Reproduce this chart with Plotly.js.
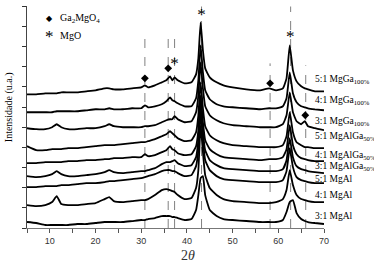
<!DOCTYPE html>
<html><head><meta charset="utf-8">
<script src="https://cdn.plot.ly/plotly-3.0.1.min.js"></script>
<style>html,body{margin:0;padding:0;background:#fff}#chart{width:374px;height:267px}</style>
</head><body><div id="chart"></div>
<script>
// 2-theta grid (degrees)
const twoTheta = [5,7,9,10.5,11.5,12.5,14,16,18,20,22,23,24,26,28,30,30.8,31.5,33,34.5,35.5,36.3,36.8,37.3,38,39.5,41,42,42.5,43,43.5,44,45,46.5,48,50,53,56,58,59.5,61,61.8,62.5,63.2,64,65,65.8,66.5,68,70];

// Stacked intensities (a.u.), top to bottom
const mgga51 = [134,134,135,135,135,136,136,136,137,138,140,140,139,139,140,141,143,141,143,146,148,152,148,151,148,145,146,154,170,206,178,160,151,146,143,141,139,138,140,138,140,150,183,158,147,142,140,139,137,137];
const mgga41 = [116,116,116,116,117,117,117,117,118,119,119,120,119,119,120,120,123,121,122,124,127,131,128,127,125,122,122,130,148,183,156,138,129,124,122,121,120,119,120,120,122,130,156,135,126,122,121,120,119,118];
const mgga31 = [100,99,99,101,104,101,99,99,100,100,102,104,102,101,101,101,102,102,103,106,108,109,109,112,109,106,107,116,133,166,140,122,113,108,105,103,102,101,101,101,104,113,136,116,107,104,107,102,100,98];
const mgalga51 = [82,78,78,79,79,79,80,80,81,82,83,83,83,84,85,86,86,87,89,92,94,97,95,93,90,87,88,96,113,146,120,102,93,88,85,83,82,81,81,81,83,92,116,96,86,83,81,81,80,80];
const mgalga41 = [65,65,66,66,66,66,67,67,68,68,69,69,70,70,71,71,74,72,73,76,78,82,79,78,75,73,74,82,98,133,106,88,79,74,71,70,69,68,69,69,71,79,103,83,74,70,69,68,67,67];
const mgalga31 = [52,51,52,54,57,54,52,52,53,54,56,58,56,55,56,57,57,58,60,64,66,66,67,68,65,62,63,71,88,123,96,78,68,63,60,59,58,57,57,57,59,68,90,71,62,59,58,57,56,55];
const mgal51 = [41,41,42,42,42,43,43,44,45,45,46,47,47,48,49,50,51,52,54,57,58,58,57,57,55,52,53,62,78,116,88,68,58,52,49,48,47,46,46,46,48,57,80,61,51,48,47,46,45,45];
const mgal41 = [23,22,23,26,32,24,23,23,24,25,29,31,27,26,27,28,28,29,33,38,39,38,37,36,33,29,30,40,58,103,76,53,40,33,29,27,26,25,25,26,29,38,58,43,33,29,28,27,26,26];
const mgal31 = [6,5,3,3,3,3,3,4,4,5,6,6,6,6,7,8,8,9,10,12,12,12,11,11,10,8,9,18,33,50,52,33,18,12,9,8,7,6,6,6,8,16,26,28,15,9,7,6,5,4];

const series = [mgga51, mgga41, mgga31, mgalga51, mgalga41, mgalga31, mgal51, mgal41, mgal31];
const seriesNames = ['5:1 MgGa','4:1 MgGa','3:1 MgGa','5:1 MgAlGa','4:1 MgAlGa','3:1 MgAlGa','5:1 MgAl','4:1 MgAl','3:1 MgAl'];
const seriesSubs = ['100%','100%','100%','50%','50%','50%','','',''];
const labelY = [149,128,107,92,73,62,49,33,12];

// phase reference markers
const ga2mgo4X = [30.8, 35.9, 58.2, 65.9];
const ga2mgo4Y = [150, 160, 145, 113];
const mgoX = [37.3, 43.2, 62.6];
const mgoY = [164, 213, 191];

// dashed reference lines
const refX = [30.8, 35.9, 37.3, 43.2, 58.2, 62.7, 66.0];
const refTop = [193, 193, 193, 222, 165, 222, 163];

const traces = series.map((s, i) => ({
  x: twoTheta, y: s, type: 'scatter', mode: 'lines', name: seriesNames[i],
  line: {color: '#000000', width: 1.8, shape: 'spline', smoothing: 0.4}, showlegend: false, hoverinfo: 'skip'
}));
traces.push({x: ga2mgo4X, y: ga2mgo4Y, type: 'scatter', mode: 'markers', showlegend: false,
  marker: {symbol: 'diamond', size: 6, color: '#000000'}});
traces.push({x: mgoX, y: mgoY, type: 'scatter', mode: 'text', text: mgoX.map(() => '*'), showlegend: false,
  marker: {color: '#000000'},
  textposition: 'middle center', textfont: {family: 'Liberation Serif', size: 17, color: '#000000'}});

const shapes = refX.map((x, i) => ({type: 'line', xref: 'x', yref: 'y', x0: x, x1: x, y0: 0, y1: refTop[i],
  line: {color: '#808080', width: 1, dash: 'dash'}, layer: 'below'}));

const annotations = seriesNames.map((n, i) => ({
  xref: 'paper', yref: 'y', x: 0.963, y: labelY[i], xanchor: 'left', yanchor: 'middle', showarrow: false,
  text: n + (seriesSubs[i] ? '<sub>' + seriesSubs[i] + '</sub>' : ''),
  font: {family: 'Liberation Serif', size: 9.5, color: '#000000'}
}));
annotations.push(
  {xref: 'paper', yref: 'paper', x: 0.077, y: 0.943, xanchor: 'center', yanchor: 'middle', showarrow: false,
   text: '◆', font: {family: 'DejaVu Sans', size: 8, color: '#000000'}},
  {xref: 'paper', yref: 'paper', x: 0.105, y: 0.943, xanchor: 'left', yanchor: 'middle', showarrow: false,
   text: 'Ga<sub>2</sub>MgO<sub>4</sub>', font: {family: 'Liberation Serif', size: 10, color: '#000000'}},
  {xref: 'paper', yref: 'paper', x: 0.077, y: 0.862, xanchor: 'center', yanchor: 'middle', showarrow: false,
   text: '*', font: {family: 'Liberation Serif', size: 17, color: '#000000'}},
  {xref: 'paper', yref: 'paper', x: 0.105, y: 0.868, xanchor: 'left', yanchor: 'middle', showarrow: false,
   text: 'MgO', font: {family: 'Liberation Serif', size: 10, color: '#000000'}},
  {xref: 'paper', yref: 'paper', x: 0.542, y: -0.122, xanchor: 'center', yanchor: 'middle', showarrow: false,
   text: '2<i>θ</i>', font: {family: 'Liberation Serif', size: 14, color: '#333333'}},
  {xref: 'paper', yref: 'paper', x: -0.06, y: 0.545, xanchor: 'center', yanchor: 'middle', showarrow: false,
   textangle: -90, text: 'Intensidade (u.a.)', font: {family: 'Liberation Serif', size: 10, color: '#000000'}}
);

const layout = {
  width: 374, height: 267,
  margin: {l: 27, r: 50, t: 6, b: 39},
  paper_bgcolor: '#fff', plot_bgcolor: '#fff',
  showlegend: false,
  xaxis: {range: [5, 70], dtick: 10, tick0: 0, ticks: 'outside', ticklen: 4, tickcolor: '#555',
    showline: true, linecolor: '#777', linewidth: 1.2, showgrid: false, zeroline: false,
    tickfont: {family: 'Liberation Sans', size: 9, color: '#333'},
    minor: {dtick: 5, tick0: 0, ticks: 'outside', ticklen: 4, tickcolor: '#555'}},
  yaxis: {range: [0, 222.5], tick0: 0, dtick: 20.2, ticks: 'outside', ticklen: 4, tickcolor: '#333',
    showticklabels: false, showline: true, linecolor: '#444', linewidth: 1, showgrid: false, zeroline: false},
  shapes: shapes,
  annotations: annotations
};

Plotly.newPlot('chart', traces, layout, {displayModeBar: false, staticPlot: true});
</script></body></html>
